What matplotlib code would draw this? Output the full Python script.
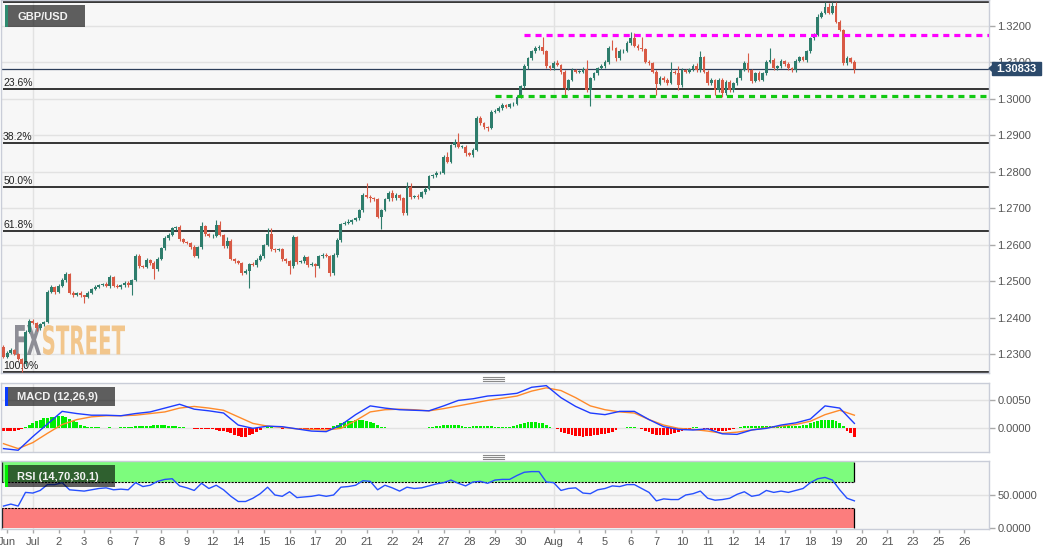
import numpy as np
import matplotlib
matplotlib.use("Agg")
import matplotlib.pyplot as plt
from matplotlib.patches import Rectangle, Polygon, PathPatch
from matplotlib.lines import Line2D
from matplotlib.textpath import TextPath
from matplotlib.font_manager import FontProperties
from matplotlib.transforms import Affine2D, blended_transform_factory

plt.rcParams['font.family'] = ['Liberation Sans', 'DejaVu Sans']

W, H = 1060, 555

# -------------------------------------------------------
# DATA — 4h GBP/USD candles
# -------------------------------------------------------
first_open = 1.2320
closes = [
    1.2293, 1.2304, 1.2311, 1.2300, 1.2286, 1.2272, 1.2361, 1.2391, 1.2386, 1.2370,
    1.2382, 1.2388, 1.2471, 1.2483, 1.2470, 1.2487, 1.2503, 1.2519, 1.2468, 1.2463,
    1.2468, 1.2461, 1.2457, 1.2468, 1.2479, 1.2485, 1.2489, 1.2492, 1.2487, 1.2512,
    1.2487, 1.2483, 1.2489, 1.2496, 1.2489, 1.2503, 1.2569, 1.2541, 1.2540, 1.2558,
    1.2550, 1.2532, 1.2560, 1.2590, 1.2617, 1.2626, 1.2645, 1.2649, 1.2615, 1.2607,
    1.2605, 1.2593, 1.2569, 1.2593, 1.2651, 1.2629, 1.2623, 1.2625, 1.2653, 1.2627,
    1.2596, 1.2611, 1.2560, 1.2554, 1.2550, 1.2523, 1.2529, 1.2547, 1.2544, 1.2558,
    1.2569, 1.2599, 1.2629, 1.2587, 1.2585, 1.2587, 1.2560, 1.2554, 1.2541, 1.2620,
    1.2552, 1.2554, 1.2567, 1.2544, 1.2547, 1.2541, 1.2569, 1.2572, 1.2569, 1.2521,
    1.2572, 1.2613, 1.2657, 1.2660, 1.2663, 1.2668, 1.2672, 1.2695, 1.2736, 1.2732,
    1.2727, 1.2724, 1.2677, 1.2695, 1.2725, 1.2741, 1.2727, 1.2736, 1.2727, 1.2686,
    1.2759, 1.2730, 1.2733, 1.2732, 1.2745, 1.2752, 1.2787, 1.2791, 1.2796, 1.2797,
    1.2841, 1.2828, 1.2873, 1.2883, 1.2869, 1.2869, 1.2852, 1.2846, 1.2861, 1.2947,
    1.2933, 1.2922, 1.2919, 1.2965, 1.2968, 1.2974, 1.2983, 1.2979, 1.2986, 1.2986,
    1.3006, 1.3034, 1.3089, 1.3111, 1.3130, 1.3139, 1.3143, 1.3130, 1.3089, 1.3084,
    1.3098, 1.3093, 1.3075, 1.3029, 1.3052, 1.3079, 1.3075, 1.3075, 1.3081, 1.3024,
    1.3056, 1.3070, 1.3084, 1.3090, 1.3102, 1.3140, 1.3139, 1.3111, 1.3130, 1.3132,
    1.3152, 1.3166, 1.3145, 1.3139, 1.3136, 1.3102, 1.3098, 1.3075, 1.3041, 1.3058,
    1.3052, 1.3043, 1.3075, 1.3072, 1.3038, 1.3079, 1.3075, 1.3081, 1.3089, 1.3079,
    1.3114, 1.3075, 1.3043, 1.3052, 1.3024, 1.3052, 1.3015, 1.3047, 1.3024, 1.3043,
    1.3056, 1.3079, 1.3098, 1.3079, 1.3050, 1.3070, 1.3052, 1.3070, 1.3102, 1.3107,
    1.3084, 1.3089, 1.3105, 1.3096, 1.3084, 1.3079, 1.3104, 1.3114, 1.3107, 1.3130,
    1.3166, 1.3175, 1.3226, 1.3237, 1.3251, 1.3237, 1.3255, 1.3212, 1.3189, 1.3099,
    1.3111, 1.3102, 1.3083,
]
# upper / lower wick length in pips beyond the candle body
wick_up = [
    4, 3, 5, 3, 2, 3, 4, 6, 5, 3,
    4, 3, 5, 6, 3, 4, 5, 6, 3, 4,
    3, 5, 2, 4, 3, 5, 4, 3, 5, 6,
    3, 4, 2, 5, 4, 3, 6, 5, 4, 6,
    3, 4, 5, 4, 6, 5, 4, 3, 4, 3,
    4, 3, 5, 4, 12, 4, 3, 5, 15, 13,
    3, 10, 4, 3, 5, 3, 4, 3, 5, 4,
    6, 4, 16, 18, 4, 3, 5, 3, 4, 6,
    3, 4, 5, 3, 6, 4, 3, 5, 4, 3,
    4, 5, 3, 4, 6, 3, 5, 4, 6, 32,
    3, 4, 5, 3, 4, 6, 8, 5, 4, 3,
    14, 10, 4, 5, 3, 6, 4, 3, 5, 4,
    5, 14, 4, 6, 22, 4, 5, 3, 4, 6,
    5, 4, 3, 5, 4, 6, 5, 3, 4, 5,
    4, 5, 6, 4, 5, 7, 6, 28, 4, 5,
    6, 8, 4, 5, 3, 6, 4, 5, 6, 26,
    4, 5, 3, 6, 5, 4, 22, 4, 6, 5,
    6, 18, 14, 5, 32, 4, 5, 3, 4, 6,
    4, 5, 27, 4, 17, 5, 4, 5, 8, 10,
    16, 4, 5, 6, 3, 5, 4, 6, 5, 4,
    5, 4, 6, 29, 4, 5, 6, 4, 5, 33,
    6, 4, 5, 3, 5, 4, 6, 5, 4, 5,
    4, 5, 6, 5, 14, 13, 12, 10, 5, 4,
    6, 4, 4,
]
wick_dn = [
    4, 5, 3, 4, 3, 22, 5, 4, 3, 6,
    4, 5, 3, 4, 5, 3, 4, 5, 4, 6,
    3, 5, 18, 4, 3, 4, 5, 3, 4, 5,
    4, 3, 5, 4, 6, 28, 4, 5, 3, 4,
    5, 25, 4, 3, 5, 4, 3, 5, 4, 3,
    4, 5, 3, 7, 4, 5, 3, 4, 5, 4,
    5, 4, 3, 5, 4, 6, 4, 49, 3, 5,
    4, 5, 3, 4, 5, 3, 6, 4, 22, 4,
    5, 3, 4, 6, 3, 29, 4, 5, 3, 6,
    4, 5, 5, 3, 4, 5, 3, 4, 5, 4,
    9, 4, 5, 35, 3, 4, 6, 5, 4, 6,
    4, 5, 3, 6, 4, 5, 3, 4, 5, 3,
    4, 5, 3, 6, 4, 5, 10, 4, 5, 3,
    5, 4, 6, 3, 5, 4, 5, 3, 4, 5,
    3, 4, 5, 6, 3, 5, 4, 6, 5, 4,
    5, 4, 6, 21, 4, 3, 5, 4, 3, 6,
    44, 4, 5, 3, 4, 5, 4, 6, 3, 5,
    4, 5, 3, 4, 5, 4, 6, 5, 30, 4,
    5, 4, 3, 4, 14, 5, 4, 3, 5, 4,
    4, 5, 6, 4, 14, 5, 9, 4, 6, 5,
    4, 5, 3, 4, 6, 5, 4, 3, 5, 4,
    5, 4, 3, 5, 6, 4, 5, 3, 4, 5,
    3, 4, 3, 5, 4, 3, 5, 4, 3, 6,
    5, 4, 11,
]

fib_high = 1.3267
fib_low = 1.2250
fib_levels = [0.0, 0.236, 0.382, 0.5, 0.618, 1.0]
fib_names = ["", "23.6%", "38.2%", "50.0%", "61.8%", "100.0%"]
resistance = 1.3175      # magenta dashed
resistance_from = 142
support = 1.3008         # green dashed
support_from = 134
last_price = 1.30833

# MACD(12,26,9), in units of 0.0001, sampled every 4 bars
macd_step = 4
macd_line = [-38, -41, -16, 7, 30, 26, 23, 23, 22, 26, 29, 36, 43, 34, 31, 27, 5, -1, 3, 2,
             -2, -6, -7, 5, 24, 40, 36, 33, 32, 31, 40, 50, 53, 58, 60, 63, 74, 77, 55, 39,
             27, 24, 30, 30, 15, 2, -3, -4, -2, -11, -12, -4, -1, 5, 9, 16, 40, 36, 8]
signal_line = [-29, -38, -27, -10, 6, 15, 20, 22, 22, 23, 26, 29, 36, 39, 36, 32, 20, 8, 3, 1,
               -2, -3, -4, -1, 13, 29, 33, 34, 33, 31, 35, 40, 45, 50, 54, 58, 67, 73, 68, 55,
               40, 33, 29, 27, 15, 5, -1, -3, -6, -10, -8, -4, 0, 3, 6, 12, 24, 32, 23]
# histogram, one value per bar, units of 0.0001
macd_hist = [
    -6, -6, -5, -5, -4, -2,
    2, 5, 9, 12, 15, 17, 18, 19, 20, 21, 21, 19, 16, 13, 10, 6, 3,
    1, 1, 1, 1, 0, 0, 1, 0, 0, 1, 1, 1, 2,
    3, 3, 4, 4, 4, 5, 5, 5, 5, 4, 4, 3, 2, 1,
    0, -1, -2, -2, -2, -2, -3,
    -3, -4, -5, -6, -8, -10, -13, -15, -16, -16, -14, -11, -8, -4, -1,
    1, 1, 0, -1, -2, -1, -1, 0, -1, -2, -2, -2, -3, -3, -3, -2, -3, -2,
    3, 6, 9, 11, 12, 13, 14, 14, 14, 13, 11, 8, 5, 2,
    1, 0, -1, -1, -1, -1, -1, -1, -1, -1, -1, 0,
    1, 2, 3, 4, 5, 6, 6, 6, 5, 4, 2, 2, 3, 4, 4, 4, 4, 3, 2, 2, 1, 1, 2, 3, 5, 7, 8, 10,
    10, 10, 9, 8, 5, 2,
    -1, -3, -8, -10, -12, -14, -15, -15, -16, -15, -15, -14, -13, -12, -11, -9, -7, -4, -1, 0, 1, 1, 1, 0,
    -2, -5, -8, -11, -13, -14, -14, -13, -12, -10, -8, -6, -4, -2,
    1, 1, 0, -2, -3, -4, -4, -5, -5, -5, -4, -3, -1,
    1, 3, 4, 4, 3, 3, 3, 3, 4, 4, 4, 3, 3, 3, 3, 3, 4, 5, 6, 8, 10, 12, 14, 15, 15, 14, 12, 9, 4,
    -6, -10, -16,
]

# RSI(14), sampled every 2 bars
rsi_step = 2
rsi_vals = [33, 36, 33, 54, 53, 57, 66, 66, 69, 58,
            57, 56, 58, 60, 61, 58, 59, 58, 69, 63,
            65, 71, 74, 75, 64, 61, 57, 68, 60, 65,
            58, 48, 40, 40, 45, 52, 62, 50, 48, 55,
            46, 47, 48, 50, 48, 50, 62, 63, 65, 72,
            71, 58, 65, 61, 56, 62, 60, 61, 64, 67,
            69, 73, 68, 64, 70, 71, 68, 73, 74, 74,
            80, 85, 86, 86, 70, 69, 57, 60, 61, 53,
            52, 58, 60, 64, 63, 66, 66, 60, 54, 41,
            44, 43, 43, 50, 52, 56, 45, 42, 43, 45,
            51, 55, 48, 50, 57, 54, 56, 54, 57, 60,
            69, 75, 77, 73, 58, 45, 41]

tick_labels = ["Jun", "Jul", "2", "3", "6", "7", "8", "9", "12", "14", "15", "16", "17",
               "20", "21", "22", "24", "27", "28", "29", "30",
               "Aug", "4", "5", "6", "7", "10", "11", "12", "14", "17", "18", "19",
               "20", "21", "23", "25", "26"]
tick_bars = list(range(1, 142, 7)) + list(range(150, 263, 7))
month_bars = [8, 150]

# -------------------------------------------------------
# COLOURS
# -------------------------------------------------------
GREEN = "#2e7d6c"
RED = "#d85a45"
BG = "#f7f7f7"
GRID = "#e2e2e2"
SPINE = "#c9cdd8"
TXT = "#555555"
XLIM = (-0.68, 268.7)

# -------------------------------------------------------
# FIGURE / AXES
# -------------------------------------------------------
fig = plt.figure(figsize=(W / 100, H / 100), dpi=100, facecolor="white")


def px_axes(x0, y0, x1, y1):
    return fig.add_axes([x0 / W, 1 - y1 / H, (x1 - x0) / W, (y1 - y0) / H])


ax = px_axes(1, 0, 989, 373)
ax_m = px_axes(1, 383, 989, 452)
ax_r = px_axes(1, 461, 989, 529)

for a in (ax, ax_m, ax_r):
    a.set_facecolor(BG)
    a.set_xlim(*XLIM)
    for s in a.spines.values():
        s.set_color(SPINE)
        s.set_linewidth(1)
    a.yaxis.tick_right()
    a.tick_params(axis="y", length=4, width=1, color="#aaaaaa", labelcolor=TXT,
                  labelsize=8, pad=2)
    for b in month_bars:
        a.axvline(b, color=GRID, lw=1, zorder=0.5)
ax.set_xticks([])
ax_m.set_xticks([])

# -- main price panel --
ax.set_ylim(1.22478, 1.32713)
price_ticks = np.round(np.arange(1.23, 1.3201, 0.01), 2)
ax.set_yticks(price_ticks)
ax.set_yticklabels([f"{t:.4f}" for t in price_ticks])
for t in price_ticks:
    ax.axhline(t, color=GRID, lw=1, zorder=0.6)

c = np.array(closes)
o = np.r_[first_open, c[:-1]]
x = np.arange(len(c))
body_lo = np.minimum(o, c)
body_hi = np.maximum(o, c)
highs = body_hi + np.array(wick_up) * 1e-4
lows = body_lo - np.array(wick_dn) * 1e-4
cols = np.where(c >= o, GREEN, RED)
ax.vlines(x, lows, highs, colors=cols, lw=0.8, zorder=3)
ax.bar(x, np.maximum(body_hi - body_lo, 0.00005), bottom=body_lo, width=0.78,
       color=cols, linewidth=0, zorder=4)

# fibonacci levels
rng = fib_high - fib_low
for lev, name in zip(fib_levels, fib_names):
    yv = fib_high - lev * rng
    ax.hlines(yv, -0.1, XLIM[1], colors="black", lw=1.1, zorder=2)
    if name:
        ax.text(-0.1, yv + 0.0003, name, fontsize=7.5, color="#222222",
                ha="left", va="bottom", zorder=6)

# last price line
ax.axhline(last_price, color="#2c3e5a", lw=0.9, zorder=2.5)

# horizontal support / resistance
ax.hlines(resistance, resistance_from, XLIM[1], colors="#ff00ff", lw=2.3,
          linestyles=(0, (1.9, 1.55)), zorder=5)
ax.hlines(support, support_from, XLIM[1], colors="#11c811", lw=2.3,
          linestyles=(0, (1.9, 1.55)), zorder=5)

# price tag on the right axis
bt = blended_transform_factory(ax.transAxes, ax.transData)
tag_h = 0.00178
ax.add_patch(Rectangle((1.003, last_price - tag_h), 0.0496, 2 * tag_h, transform=bt,
                       color="#2c4a6b", clip_on=False, zorder=10))
ax.add_patch(Polygon([(1.0, last_price), (1.0035, last_price + 0.0008),
                      (1.0035, last_price - 0.0008)], closed=True, transform=bt,
                     color="#2c4a6b", clip_on=False, zorder=10))
ax.text(1.0278, last_price, f"{last_price:.5f}", transform=bt, ha="center", va="center",
        color="white", fontsize=8, fontweight="bold", clip_on=False, zorder=11)


# FXSTREET watermark, behind the candles
def add_word(axis, word, color, x0, x1, y0, y1):
    tp = TextPath((0, 0), word, size=10,
                  prop=FontProperties(family="DejaVu Sans", weight="bold"))
    ext = tp.get_extents()
    tr = (Affine2D().translate(-ext.x0, -ext.y0)
          .scale((x1 - x0) / ext.width, (y1 - y0) / ext.height)
          .translate(x0, H - y1))
    axis.add_artist(PathPatch(tp, transform=tr, color=color, lw=0, zorder=1))


add_word(ax, "FX", "#8e8e96", 15, 41, 325, 355)
add_word(ax, "STREET", "#f2c68c", 43, 125, 325, 355)

# -- MACD panel --
ax_m.set_ylim(-0.00442, 0.00818)
ax_m.set_yticks([0.0, 0.005])
ax_m.set_yticklabels(["0.0000", "0.0050"])
for t in (0.0, 0.005):
    ax_m.axhline(t, color=GRID, lw=1, zorder=0.6)
hist = np.array(macd_hist) * 1e-4
ax_m.bar(np.arange(len(hist)), hist, width=0.78, linewidth=0,
         color=np.where(hist >= 0, "#00ee00", "#ff0000"), zorder=2)
mx = np.arange(len(macd_line)) * macd_step
ax_m.plot(mx, np.array(signal_line) * 1e-4, color="#ff8a2a", lw=1, zorder=3)
ax_m.plot(mx, np.array(macd_line) * 1e-4, color="#1e3cff", lw=1, zorder=4)

# -- RSI panel --
ax_r.set_ylim(-2.3, 102.3)
ax_r.set_yticks([0, 50])
ax_r.set_yticklabels(["0.0000", "50.0000"])
ax_r.axhline(50, color=GRID, lw=1, zorder=0.6)
last_bar = len(closes) - 1
ax_r.fill_between([XLIM[0], last_bar], 70, 100, color="#7dfc7d", lw=0, zorder=1)
ax_r.fill_between([XLIM[0], last_bar], 0, 30, color="#fc7d7d", lw=0, zorder=1)
ax_r.hlines([70, 30], XLIM[0], last_bar, colors="black", lw=0.8,
            linestyles=(0, (2, 1)), zorder=2)
ax_r.vlines([last_bar, last_bar], [70, 0], [100, 30], colors="black", lw=0.9, zorder=2)
ax_r.vlines([XLIM[0] + 0.3] * 2, [70, 0], [100, 30], colors="black", lw=0.9, zorder=2)
rx = np.arange(len(rsi_vals)) * rsi_step
ax_r.plot(rx, rsi_vals, color="#2650ff", lw=1, zorder=3)

ax_r.set_xticks(tick_bars)
ax_r.set_xticklabels(tick_labels)
ax_r.tick_params(axis="x", length=3, width=1, color="#aaaaaa", labelcolor=TXT,
                 labelsize=8, pad=3)


# -------------------------------------------------------
# LABEL BOXES AND PANEL HANDLES
# -------------------------------------------------------
def px_rect(x0, y0, x1, y1, **kw):
    fig.add_artist(Rectangle((x0 / W, 1 - y1 / H), (x1 - x0) / W, (y1 - y0) / H,
                             transform=fig.transFigure, lw=0, **kw))


def px_text(xp, yp, s, **kw):
    fig.text(xp / W, 1 - yp / H, s, ha="left", va="center", color="#f2f2f2",
             fontsize=8, fontweight="bold", zorder=20, **kw)


px_rect(5, 5, 85, 27, color="black", alpha=0.62, zorder=15)
px_rect(5, 5, 7.5, 27, color="#2e8b70", zorder=16)
px_text(17, 16.5, "GBP/USD")

px_rect(5, 387, 115, 406, color="black", alpha=0.62, zorder=15)
px_rect(5, 387, 7.5, 406, color="#0a3cff", zorder=16)
px_text(17, 397, "MACD (12,26,9)")

px_rect(5, 465, 115, 487, color="black", alpha=0.62, zorder=15)
px_rect(5, 465, 7.5, 487, color="#00f000", zorder=16)
px_text(17, 476.5, "RSI (14,70,30,1)")

for yc in (378.5, 456.5):
    for dy in (-2, 0, 2):
        fig.add_artist(Line2D([483 / W, 504 / W], [1 - (yc + dy) / H] * 2,
                              transform=fig.transFigure, color="#8a8a8a", lw=0.8))

plt.savefig("out.png", dpi=100, facecolor="white")
plt.close()
